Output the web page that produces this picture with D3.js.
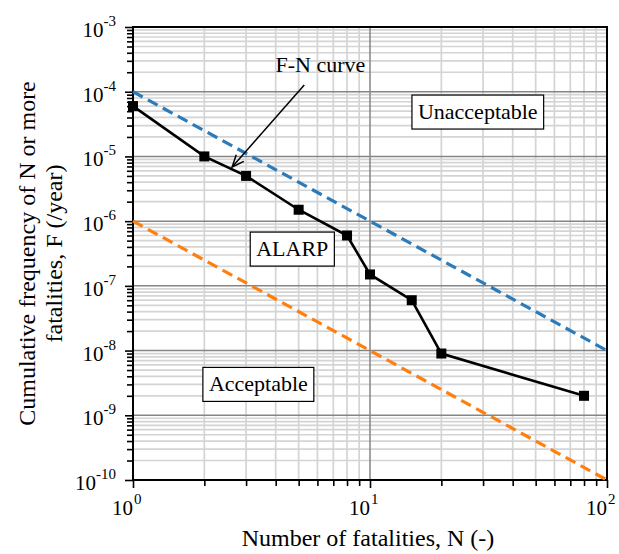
<!DOCTYPE html>
<html>
<head>
<meta charset="utf-8">
<script src="https://cdn.jsdelivr.net/npm/d3@7"></script>
<style>
  html, body { margin: 0; padding: 0; background: #fff; }
  svg, svg text { font-family: "Liberation Serif", "Times New Roman", Times, serif; }
</style>
</head>
<body>
<svg id="chart" width="619" height="554" font-family="Liberation Serif, Times New Roman, serif"></svg>
<script>
// ---- data ----
const fatalities = [1, 2, 3, 5, 8, 10, 15, 20, 80];
const frequency = [6e-5, 1e-5, 5e-6, 1.5e-6, 6e-7, 1.5e-7, 6e-8, 9e-9, 2e-9];
const limitN = [1, 100];
const unacceptableLimit = [1e-4, 1e-8];
const acceptableLimit = [1e-6, 1e-10];
const xTickValues = [1, 10, 100];
const xTickExponents = ["0", "1", "2"];
const yTickValues = [1e-10, 1e-9, 1e-8, 1e-7, 1e-6, 1e-5, 1e-4, 1e-3];
const yTickExponents = ["-10", "-9", "-8", "-7", "-6", "-5", "-4", "-3"];
const regionLabels = ["Unacceptable", "ALARP", "Acceptable"];
const regionLabelN = [28.5, 4.7, 3.38];
const regionLabelF = [4.85e-5, 3.7e-7, 3.0e-9];
const curveLabel = "F-N curve";

// ---- layout ----
const svg = d3.select("#chart");
const FONT = "Liberation Serif, Times New Roman, serif";
const pLeft = 133, pRight = 607, pTop = 27, pBottom = 480;
const x = d3.scaleLog().domain([1, 100]).range([pLeft, pRight]);
const y = d3.scaleLog().domain([1e-10, 1e-3]).range([pBottom, pTop]);

// minor values
const xMinor = [];
for (let d = 1; d < 100; d *= 10) for (let k = 2; k <= 9; k++) xMinor.push(d * k);
const yMinor = [];
for (let e = -10; e < -3; e++) for (let k = 2; k <= 9; k++) yMinor.push(k * Math.pow(10, e));

// grid
const grid = svg.append("g");
grid.selectAll("line.xminor").data(xMinor).join("line")
  .attr("x1", d => x(d)).attr("x2", d => x(d)).attr("y1", pTop).attr("y2", pBottom)
  .attr("stroke", "#d4d4d4").attr("stroke-width", 1.7);
grid.selectAll("line.yminor").data(yMinor).join("line")
  .attr("y1", d => y(d)).attr("y2", d => y(d)).attr("x1", pLeft).attr("x2", pRight)
  .attr("stroke", "#d4d4d4").attr("stroke-width", 1.7);
grid.selectAll("line.xmajor").data(xTickValues.slice(1, -1)).join("line")
  .attr("x1", d => x(d)).attr("x2", d => x(d)).attr("y1", pTop).attr("y2", pBottom)
  .attr("stroke", "#858585").attr("stroke-width", 1.5);
grid.selectAll("line.ymajor").data(yTickValues.slice(1, -1)).join("line")
  .attr("y1", d => y(d)).attr("y2", d => y(d)).attr("x1", pLeft).attr("x2", pRight)
  .attr("stroke", "#858585").attr("stroke-width", 1.5);

// frame
svg.append("rect").attr("x", pLeft).attr("y", pTop)
  .attr("width", pRight - pLeft).attr("height", pBottom - pTop)
  .attr("fill", "none").attr("stroke", "#000").attr("stroke-width", 2);

// axes (ticks)
function styleAxis(g) {
  g.select(".domain").remove();
  g.selectAll(".tick line").attr("stroke", "#000").attr("stroke-width", 1.6);
  g.selectAll(".tick text").remove();
}
svg.append("g").attr("transform", `translate(0,${pBottom})`)
  .call(d3.axisBottom(x).tickValues(xMinor).tickSize(6).tickFormat(""))
  .call(styleAxis);
svg.append("g").attr("transform", `translate(0,${pBottom})`)
  .call(d3.axisBottom(x).tickValues(xTickValues).tickSize(8).tickFormat(""))
  .call(styleAxis);
svg.append("g").attr("transform", `translate(${pLeft},0)`)
  .call(d3.axisLeft(y).tickValues(yMinor).tickSize(6).tickFormat(""))
  .call(styleAxis);
svg.append("g").attr("transform", `translate(${pLeft},0)`)
  .call(d3.axisLeft(y).tickValues(yTickValues).tickSize(8).tickFormat(""))
  .call(styleAxis);

// tick labels
const xl = svg.append("g").selectAll("text").data(xTickValues).join("text")
  .attr("x", d => x(d) - 21).attr("y", pBottom + 35).attr("font-family", FONT)
  .attr("text-anchor", "start").attr("font-size", 21).attr("fill", "#000");
xl.append("tspan").text("10");
xl.append("tspan").attr("dx", 1).attr("dy", -11).attr("font-size", 15).text((d, i) => xTickExponents[i]);

const yl = svg.append("g").selectAll("text").data(yTickValues).join("text")
  .attr("x", pLeft - 17).attr("y", d => y(d) + 10).attr("font-family", FONT)
  .attr("text-anchor", "end").attr("font-size", 21).attr("fill", "#000");
yl.append("tspan").text("10");
yl.append("tspan").attr("dy", -11).attr("font-size", 15).text((d, i) => yTickExponents[i]);

// axis titles
svg.append("text").attr("x", 368).attr("y", 546).attr("font-family", FONT)
  .attr("text-anchor", "middle").attr("font-size", 24).text("Number of fatalities, N (-)");
const yt = svg.append("text").attr("transform", `translate(35,${(pTop + pBottom) / 2}) rotate(-90)`)
  .attr("text-anchor", "middle").attr("font-size", 24).attr("font-family", FONT);
yt.append("tspan").attr("x", 0).attr("y", 0).text("Cumulative frequency of N or more");
yt.append("tspan").attr("x", 0).attr("y", 27).text("fatalities, F (/year)");

// limit lines
const line = d3.line().x(d => x(d[0])).y(d => y(d[1]));
svg.append("path").datum(limitN.map((n, i) => [n, unacceptableLimit[i]]))
  .attr("d", line).attr("fill", "none").attr("stroke", "#2b7bba")
  .attr("stroke-width", 3.2).attr("stroke-dasharray", "11,6");
svg.append("path").datum(limitN.map((n, i) => [n, acceptableLimit[i]]))
  .attr("d", line).attr("fill", "none").attr("stroke", "#ff7f0e")
  .attr("stroke-width", 3.2).attr("stroke-dasharray", "11,6");

// F-N curve
const pts = fatalities.map((n, i) => [n, frequency[i]]);
svg.append("path").datum(pts).attr("d", line).attr("fill", "none")
  .attr("stroke", "#000").attr("stroke-width", 2.6);
svg.append("g").selectAll("rect").data(pts).join("rect")
  .attr("x", d => x(d[0]) - 5).attr("y", d => y(d[1]) - 5)
  .attr("width", 10).attr("height", 10).attr("fill", "#000");

// region labels
regionLabels.forEach((lab, i) => {
  const g = svg.append("g");
  const t = g.append("text").attr("x", x(regionLabelN[i])).attr("y", y(regionLabelF[i]) + 7)
    .attr("font-family", FONT)
    .attr("text-anchor", "middle").attr("font-size", 22).text(lab);
  const bb = t.node().getBBox();
  g.insert("rect", "text").attr("x", bb.x - 6).attr("y", y(regionLabelF[i]) - 17)
    .attr("width", bb.width + 12).attr("height", 34)
    .attr("fill", "#fff").attr("stroke", "#000").attr("stroke-width", 1.2);
});

// F-N curve annotation with arrow
svg.append("text").attr("x", x(6.18)).attr("y", y(2.0e-4)).attr("text-anchor", "middle")
  .attr("font-family", FONT).attr("font-size", 22).text(curveLabel);
const ax1 = x(5.28), ay1 = y(1.27e-4), ax2 = x(2.62), ay2 = y(6.86e-6);
svg.append("line").attr("x1", ax1).attr("y1", ay1).attr("x2", ax2).attr("y2", ay2)
  .attr("stroke", "#000").attr("stroke-width", 1.5);
const ang = Math.atan2(ay1 - ay2, ax1 - ax2);
const hl = 13, ha = 0.4;
svg.append("path")
  .attr("d", `M${ax2 + hl * Math.cos(ang + ha)},${ay2 + hl * Math.sin(ang + ha)} L${ax2},${ay2} L${ax2 + hl * Math.cos(ang - ha)},${ay2 + hl * Math.sin(ang - ha)}`)
  .attr("fill", "none").attr("stroke", "#000").attr("stroke-width", 1.5);
</script>
</body>
</html>
